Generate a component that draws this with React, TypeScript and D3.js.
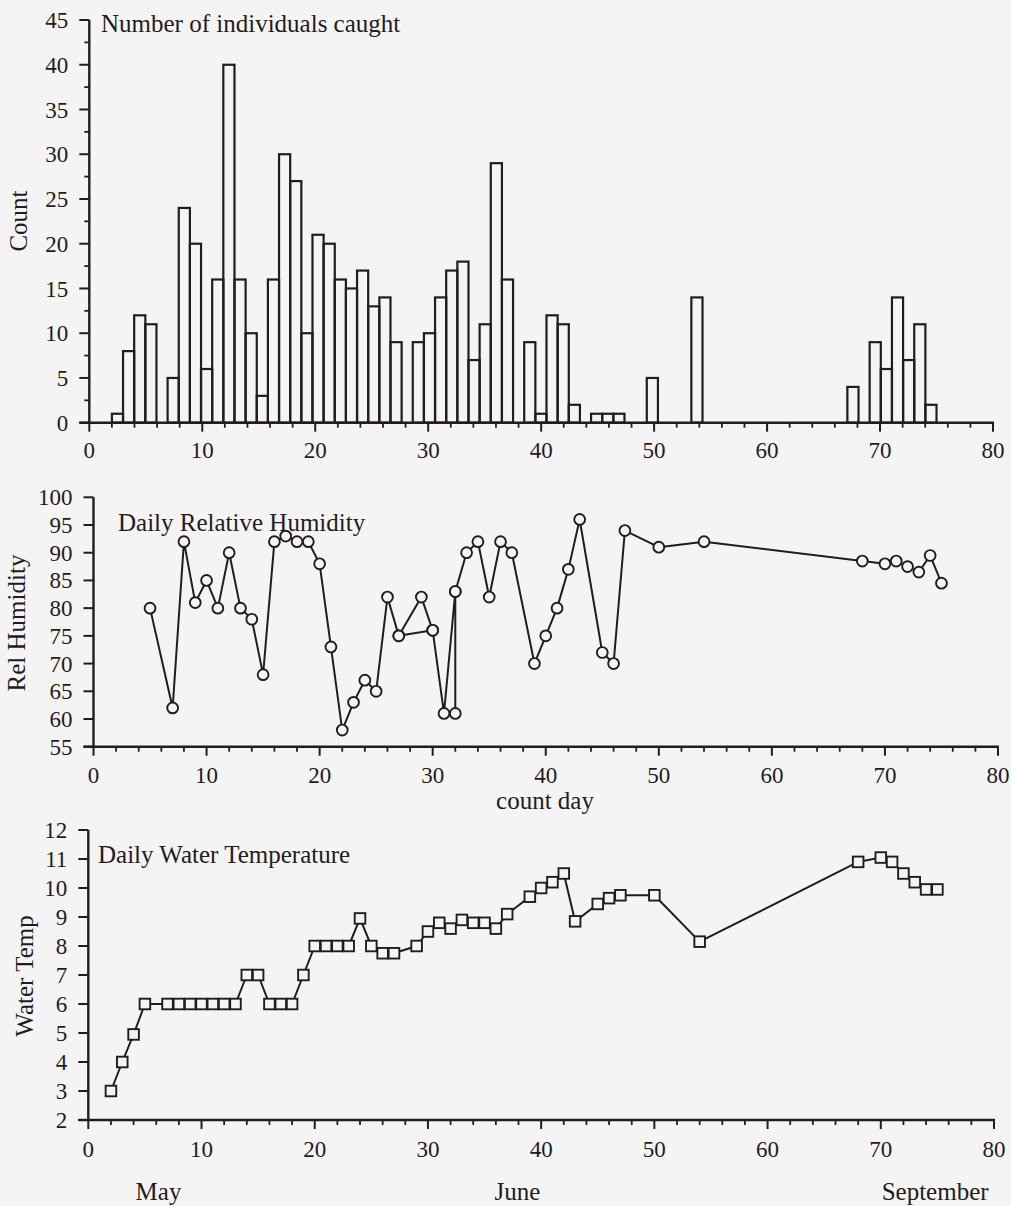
import React from 'react';
import * as d3 from 'd3';

// ---------- data ----------
const catchDays = [2,3,4,5,6,7,8,9,10,11,12,13,14,15,16,17,18,19,20,21,22,23,24,25,26,27,28,29,30,31,32,33,34,35,36,37,38,39,40,41,42,43,44,45,46,47,48,49,50,51,52,53,54,55,56,57,58,59,60,61,62,63,64,65,66,67,68,69,70,71,72,73,74,75];
const catchCounts = [1,8,12,11,0,5,24,20,6,16,40,16,10,3,16,30,27,10,21,20,16,15,17,13,14,9,0,9,10,14,17,18,7,11,29,16,0,9,1,12,11,2,0,1,1,1,0,0,5,0,0,0,14,0,0,0,0,0,0,0,0,0,0,0,0,0,4,0,9,6,14,7,11,2];
const countTicks = [0,5,10,15,20,25,30,35,40,45];
const dayTicks = [0,10,20,30,40,50,60,70,80];

const humidityDays = [5,7,8,9,10,11,12,13,14,15,16,17,18,19,20,21,22,23,24,25,26,27,29,30,27,30,31,32,32,32,33,34,35,36,37,39,40,41,42,43,45,46,47,50,54,68,70,71,72,73,74,75];
const humidityValues = [80,62,92,81,85,80,90,80,78,68,92,93,92,92,88,73,58,63,67,65,82,75,82,76,75,76,61,83,61,83,90,92,82,92,90,70,75,80,87,96,72,70,94,91,92,88.5,88,88.5,87.5,86.5,89.5,84.5];
const humidityTicks = [55,60,65,70,75,80,85,90,95,100];

const tempDays = [2,3,4,5,7,8,9,10,11,12,13,14,15,16,17,18,19,20,21,22,23,24,25,26,27,29,30,31,32,33,34,35,36,37,39,40,41,42,43,45,46,47,50,54,68,70,71,72,73,74,75];
const tempValues = [3,4,4.95,6,6,6,6,6,6,6,6,7,7,6,6,6,7,8,8,8,8,8.95,8,7.75,7.75,8,8.5,8.8,8.6,8.9,8.8,8.8,8.6,9.1,9.7,10,10.2,10.5,8.85,9.45,9.65,9.75,9.75,8.15,10.9,11.05,10.9,10.5,10.2,9.95,9.95];
const tempTicks = [2,3,4,5,6,7,8,9,10,11,12];

const monthNames = ['May', 'June', 'September'];
const monthAt = [6.2, 37.9, 74.8];

// ---------- style ----------
const INK = '#231c1e';
const BG = '#f5f4f4';
const FONT = "'Liberation Serif', 'Times New Roman', serif";
const TICK_FS = 23;
const TITLE_FS = 25;

type Lin = d3.ScaleLinear<number, number>;

function Axes({ x, y, yTicks, yMinor, labelGap }: { x: Lin; y: Lin; yTicks: number[]; yMinor: number[]; labelGap: number }) {
  const [x0, x1] = x.range();
  const [yb, yt] = y.range();
  const minorX = d3.range(0, 81, 2).filter((v) => v % 10 !== 0);
  return (
    <g stroke={INK} fill="none">
      <line x1={x0} x2={x0} y1={yb} y2={yt} strokeWidth={2.4} />
      <line x1={x0 - 10} x2={x1 + 1} y1={yb} y2={yb} strokeWidth={2.4} />
      {yTicks.map((t) => (
        <line key={'yt' + t} x1={x0 - 10} x2={x0} y1={y(t)} y2={y(t)} strokeWidth={2} />
      ))}
      {yMinor.map((t) => (
        <line key={'ym' + t} x1={x0 - 5} x2={x0} y1={y(t)} y2={y(t)} strokeWidth={1.8} />
      ))}
      {dayTicks.map((t) => (
        <line key={'xt' + t} x1={x(t)} x2={x(t)} y1={yb} y2={yb + 9} strokeWidth={2} />
      ))}
      {minorX.map((t) => (
        <line key={'xm' + t} x1={x(t)} x2={x(t)} y1={yb} y2={yb + 5} strokeWidth={1.8} />
      ))}
      <g stroke="none" fill={INK} fontFamily={FONT} fontSize={TICK_FS}>
        {yTicks.map((t) => (
          <text key={'yl' + t} x={x0 - 21} y={y(t)} dy="0.35em" textAnchor="end">{t}</text>
        ))}
        {dayTicks.map((t) => (
          <text key={'xl' + t} x={x(t)} y={yb + labelGap} textAnchor="middle">{t}</text>
        ))}
      </g>
    </g>
  );
}

export default function App() {
  const W = 1011;
  const H = 1206;

  const xTop = d3.scaleLinear().domain([0, 80]).range([89.3, 993]);
  const yTop = d3.scaleLinear().domain([0, 45]).range([422.7, 20]);
  const xMid = d3.scaleLinear().domain([0, 80]).range([93.5, 998]);
  const yMid = d3.scaleLinear().domain([55, 100]).range([746.7, 497.3]);
  const xBot = d3.scaleLinear().domain([0, 80]).range([88.3, 994]);
  const yBot = d3.scaleLinear().domain([2, 12]).range([1120, 830]);

  const firstDay = catchDays[0];
  const lastDay = catchDays[catchDays.length - 1];
  const binW = (lastDay - firstDay) / catchCounts.length;

  const countMinor = countTicks.slice(0, -1).map((t) => t + 2.5);

  const humPts: [number, number][] = humidityDays.map((d, i) => [d, humidityValues[i]]);
  const tempPts: [number, number][] = tempDays.map((d, i) => [d, tempValues[i]]);
  const humLine = d3.line<[number, number]>().x((d) => xMid(d[0])).y((d) => yMid(d[1]));
  const tempLine = d3.line<[number, number]>().x((d) => xBot(d[0])).y((d) => yBot(d[1]));

  const sq = 10.6;

  return (
    <svg width={W} height={H} viewBox={`0 0 ${W} ${H}`} style={{ position: 'absolute', left: 0, top: 0, display: 'block' }}>
      <rect x={0} y={0} width={W} height={H} fill={BG} />

      {/* ---------- top: counts ---------- */}
      <g>
        {catchCounts.map((c, i) => {
          if (c <= 0) return null;
          const a = xTop(firstDay + i * binW);
          const b = xTop(firstDay + (i + 1) * binW);
          return (
            <rect key={'b' + i} x={a} y={yTop(c)} width={b - a} height={yTop(0) - yTop(c)} fill="none" stroke={INK} strokeWidth={2.2} />
          );
        })}
        <Axes x={xTop} y={yTop} yTicks={countTicks} yMinor={countMinor} labelGap={35} />
        <text x={101} y={32} fontFamily={FONT} fontSize={TITLE_FS} fill={INK}>Number of individuals caught</text>
        <text transform={`translate(27,221) rotate(-90)`} textAnchor="middle" fontFamily={FONT} fontSize={TITLE_FS} fill={INK}>Count</text>
      </g>

      {/* ---------- middle: humidity ---------- */}
      <g>
        <Axes x={xMid} y={yMid} yTicks={humidityTicks} yMinor={[]} labelGap={36} />
        <path d={humLine(humPts) || ''} fill="none" stroke={INK} strokeWidth={2} strokeLinejoin="round" />
        {humPts.map((p, i) => (
          <circle key={'h' + i} cx={xMid(p[0])} cy={yMid(p[1])} r={5.4} fill={BG} stroke={INK} strokeWidth={1.9} />
        ))}
        <text x={118} y={531} fontFamily={FONT} fontSize={TITLE_FS} fill={INK}>Daily Relative Humidity</text>
        <text transform={`translate(25,623) rotate(-90)`} textAnchor="middle" fontFamily={FONT} fontSize={TITLE_FS} fill={INK}>Rel Humidity</text>
        <text x={545} y={809} textAnchor="middle" fontFamily={FONT} fontSize={TITLE_FS} fill={INK}>count day</text>
      </g>

      {/* ---------- bottom: water temperature ---------- */}
      <g>
        <Axes x={xBot} y={yBot} yTicks={tempTicks} yMinor={[]} labelGap={37} />
        <path d={tempLine(tempPts) || ''} fill="none" stroke={INK} strokeWidth={2} strokeLinejoin="round" />
        {tempPts.map((p, i) => (
          <rect key={'t' + i} x={xBot(p[0]) - sq / 2} y={yBot(p[1]) - sq / 2} width={sq} height={sq} fill={BG} stroke={INK} strokeWidth={1.9} />
        ))}
        <text x={98} y={863} fontFamily={FONT} fontSize={TITLE_FS} fill={INK}>Daily Water Temperature</text>
        <text transform={`translate(33,976) rotate(-90)`} textAnchor="middle" fontFamily={FONT} fontSize={TITLE_FS} fill={INK}>Water Temp</text>
        {monthNames.map((m, i) => (
          <text key={m} x={xBot(monthAt[i])} y={1200} textAnchor="middle" fontFamily={FONT} fontSize={TITLE_FS} fill={INK}>{m}</text>
        ))}
      </g>
    </svg>
  );
}
